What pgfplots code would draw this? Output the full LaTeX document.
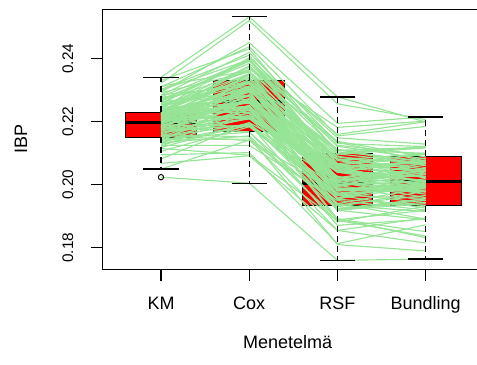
\documentclass[border=0pt]{standalone}
\usepackage{fontspec}
\setmainfont{Liberation Sans}
\usepackage{pgfplots}
\pgfplotsset{compat=1.18}
\usetikzlibrary{calc}
\definecolor{lg}{RGB}{150,228,150}
\definecolor{bxred}{RGB}{255,0,0}
\pgfplotsset{gl/.style={color=lg, line width=0.85pt, mark=none, line join=round}}
\begin{document}
\begin{tikzpicture}
\begin{axis}[
  scale only axis,
  width=283pt, height=195pt,
  xmin=0.339, xmax=4.616,
  ymin=0.17314, ymax=0.25568,
  xtick={1,2,3,4}, xticklabels={KM,Cox,RSF,Bundling},
  ytick={0.18,0.20,0.22,0.24},
  /pgf/number format/assume math mode=true,
  yticklabel style={xshift=-9.5pt, rotate=90, anchor=south,
    /pgf/number format/fixed, /pgf/number format/precision=2,
    /pgf/number format/fixed zerofill, font=\fontsize{11.5}{12}\selectfont},
  xticklabel style={font=\fontsize{13.5}{15}\selectfont, yshift=-8pt},
  tick align=outside,
  major tick length=9pt,
  xtick pos=bottom, ytick pos=left,
  tick style={black, line width=0.8pt},
  axis line style={line width=1pt},
  xlabel={Menetelmä}, ylabel={IBP},
  xlabel style={at={(axis description cs:0.49,0)}, anchor=north, yshift=-46.3pt, font=\fontsize{13.5}{15}\selectfont},
  ylabel style={at={(axis description cs:-0.2165,0.5)}, anchor=center, font=\fontsize{13.5}{15}\selectfont},
]
\coordinate (LL) at (rel axis cs:0,0);
% boxes
\addplot[fill=bxred, draw=black, line width=0.7pt] coordinates {(0.6,0.2151) (1.4,0.2151) (1.4,0.2231) (0.6,0.2231)} -- cycle;
\addplot[fill=bxred, draw=black, line width=0.7pt] coordinates {(1.6,0.2170) (2.4,0.2170) (2.4,0.2331) (1.6,0.2331)} -- cycle;
\addplot[fill=bxred, draw=black, line width=0.7pt] coordinates {(2.6,0.1934) (3.4,0.1934) (3.4,0.2100) (2.6,0.2100)} -- cycle;
\addplot[fill=bxred, draw=black, line width=0.7pt] coordinates {(3.6,0.1934) (4.4,0.1934) (4.4,0.2090) (3.6,0.2090)} -- cycle;
% medians
\addplot[black, line width=2.2pt] coordinates {(0.6,0.2198) (1.4,0.2198)};
\addplot[black, line width=2.2pt] coordinates {(1.6,0.2265) (2.4,0.2265)};
\addplot[black, line width=2.2pt] coordinates {(2.6,0.2005) (3.4,0.2005)};
\addplot[black, line width=2.2pt] coordinates {(3.6,0.2010) (4.4,0.2010)};
% individual lines
\addplot[gl] coordinates {(1,0.2024) (2,0.2005) (3,0.1760) (4,0.1764)};
\addplot[gl] coordinates {(1,0.2050) (2,0.2142) (3,0.1973) (4,0.1943)};
\addplot[gl] coordinates {(1,0.2068) (2,0.2092) (3,0.1855) (4,0.1895)};
\addplot[gl] coordinates {(1,0.2082) (2,0.2197) (3,0.2044) (4,0.2024)};
\addplot[gl] coordinates {(1,0.2095) (2,0.2102) (3,0.1813) (4,0.1873)};
\addplot[gl] coordinates {(1,0.2106) (2,0.2184) (3,0.1974) (4,0.1984)};
\addplot[gl] coordinates {(1,0.2115) (2,0.2094) (3,0.1887) (4,0.1837)};
\addplot[gl] coordinates {(1,0.2122) (2,0.2231) (3,0.1889) (4,0.1919)};
\addplot[gl] coordinates {(1,0.2128) (2,0.2188) (3,0.1987) (4,0.1977)};
\addplot[gl] coordinates {(1,0.2134) (2,0.2155) (3,0.1892) (4,0.1832)};
\addplot[gl] coordinates {(1,0.2139) (2,0.2270) (3,0.2079) (4,0.2099)};
\addplot[gl] coordinates {(1,0.2143) (2,0.2145) (3,0.1855) (4,0.1815)};
\addplot[gl] coordinates {(1,0.2147) (2,0.2239) (3,0.2005) (4,0.2055)};
\addplot[gl] coordinates {(1,0.2151) (2,0.2193) (3,0.1871) (4,0.1891)};
\addplot[gl] coordinates {(1,0.2155) (2,0.2298) (3,0.2080) (4,0.2050)};
\addplot[gl] coordinates {(1,0.2159) (2,0.2152) (3,0.1810) (4,0.1790)};
\addplot[gl] coordinates {(1,0.2163) (2,0.2237) (3,0.1994) (4,0.2034)};
\addplot[gl] coordinates {(1,0.2167) (2,0.2191) (3,0.2009) (4,0.1959)};
\addplot[gl] coordinates {(1,0.2171) (2,0.2285) (3,0.1980) (4,0.1990)};
\addplot[gl] coordinates {(1,0.2175) (2,0.2210) (3,0.2064) (4,0.2044)};
\addplot[gl] coordinates {(1,0.2179) (2,0.2304) (3,0.2014) (4,0.2044)};
\addplot[gl] coordinates {(1,0.2183) (2,0.2168) (3,0.1882) (4,0.1932)};
\addplot[gl] coordinates {(1,0.2186) (2,0.2272) (3,0.2040) (4,0.2000)};
\addplot[gl] coordinates {(1,0.2189) (2,0.2245) (3,0.1920) (4,0.1940)};
\addplot[gl] coordinates {(1,0.2192) (2,0.2298) (3,0.2110) (4,0.2100)};
\addplot[gl] coordinates {(1,0.2195) (2,0.2212) (3,0.1955) (4,0.2015)};
\addplot[gl] coordinates {(1,0.2198) (2,0.2335) (3,0.2098) (4,0.2068)};
\addplot[gl] coordinates {(1,0.2200) (2,0.2247) (3,0.1891) (4,0.1851)};
\addplot[gl] coordinates {(1,0.2203) (2,0.2301) (3,0.2052) (4,0.2072)};
\addplot[gl] coordinates {(1,0.2206) (2,0.2214) (3,0.2027) (4,0.1977)};
\addplot[gl] coordinates {(1,0.2209) (2,0.2327) (3,0.2022) (4,0.2062)};
\addplot[gl] coordinates {(1,0.2211) (2,0.2249) (3,0.2003) (4,0.1993)};
\addplot[gl] coordinates {(1,0.2214) (2,0.2293) (3,0.1966) (4,0.1996)};
\addplot[gl] coordinates {(1,0.2216) (2,0.2215) (3,0.2057) (4,0.1997)};
\addplot[gl] coordinates {(1,0.2218) (2,0.2347) (3,0.2097) (4,0.2117)};
\addplot[gl] coordinates {(1,0.2221) (2,0.2250) (3,0.1954) (4,0.1934)};
\addplot[gl] coordinates {(1,0.2223) (2,0.2313) (3,0.2111) (4,0.2071)};
\addplot[gl] coordinates {(1,0.2225) (2,0.2285) (3,0.1930) (4,0.1980)};
\addplot[gl] coordinates {(1,0.2227) (2,0.2377) (3,0.2109) (4,0.2119)};
\addplot[gl] coordinates {(1,0.2229) (2,0.2249) (3,0.2043) (4,0.2013)};
\addplot[gl] coordinates {(1,0.2231) (2,0.2341) (3,0.2012) (4,0.2032)};
\addplot[gl] coordinates {(1,0.2233) (2,0.2284) (3,0.1999) (4,0.1949)};
\addplot[gl] coordinates {(1,0.2236) (2,0.2367) (3,0.2182) (4,0.2202)};
\addplot[gl] coordinates {(1,0.2239) (2,0.2280) (3,0.1936) (4,0.1966)};
\addplot[gl] coordinates {(1,0.2242) (2,0.2403) (3,0.2149) (4,0.2129)};
\addplot[gl] coordinates {(1,0.2246) (2,0.2258) (3,0.2010) (4,0.1970)};
\addplot[gl] coordinates {(1,0.2250) (2,0.2352) (3,0.2010) (4,0.2070)};
\addplot[gl] coordinates {(1,0.2254) (2,0.2327) (3,0.2082) (4,0.2072)};
\addplot[gl] coordinates {(1,0.2258) (2,0.2401) (3,0.2067) (4,0.2097)};
\addplot[gl] coordinates {(1,0.2263) (2,0.2297) (3,0.1919) (4,0.1889)};
\addplot[gl] coordinates {(1,0.2268) (2,0.2392) (3,0.2160) (4,0.2200)};
\addplot[gl] coordinates {(1,0.2273) (2,0.2328) (3,0.2022) (4,0.2002)};
\addplot[gl] coordinates {(1,0.2279) (2,0.2394) (3,0.2122) (4,0.2082)};
\addplot[gl] coordinates {(1,0.2286) (2,0.2312) (3,0.1970) (4,0.2020)};
\addplot[gl] coordinates {(1,0.2294) (2,0.2451) (3,0.2195) (4,0.2215)};
\addplot[gl] coordinates {(1,0.2303) (2,0.2411) (3,0.2105) (4,0.2075)};
\addplot[gl] coordinates {(1,0.2313) (2,0.2362) (3,0.1988) (4,0.1998)};
\addplot[gl] coordinates {(1,0.2322) (2,0.2521) (3,0.2257) (4,0.2207)};
\addplot[gl] coordinates {(1,0.2331) (2,0.2431) (3,0.2100) (4,0.2120)};
\addplot[gl] coordinates {(1,0.2341) (2,0.2533) (3,0.2279) (4,0.2199)};
\addplot[gl] coordinates {(1,0.2118) (2,0.2197) (3,0.1924) (4,0.1944)};
\addplot[gl] coordinates {(1,0.2125) (2,0.2125) (3,0.1950) (4,0.1920)};
\addplot[gl] coordinates {(1,0.2131) (2,0.2241) (3,0.1917) (4,0.1957)};
\addplot[gl] coordinates {(1,0.2137) (2,0.2188) (3,0.1967) (4,0.1957)};
\addplot[gl] coordinates {(1,0.2141) (2,0.2272) (3,0.2050) (4,0.2010)};
\addplot[gl] coordinates {(1,0.2145) (2,0.2167) (3,0.1921) (4,0.1951)};
\addplot[gl] coordinates {(1,0.2149) (2,0.2211) (3,0.2024) (4,0.2004)};
\addplot[gl] coordinates {(1,0.2153) (2,0.2245) (3,0.1940) (4,0.1990)};
\addplot[gl] coordinates {(1,0.2157) (2,0.2140) (3,0.1941) (4,0.1891)};
\addplot[gl] coordinates {(1,0.2161) (2,0.2284) (3,0.1999) (4,0.2009)};
\addplot[gl] coordinates {(1,0.2165) (2,0.2209) (3,0.2043) (4,0.2013)};
\addplot[gl] coordinates {(1,0.2169) (2,0.2273) (3,0.1971) (4,0.1991)};
\addplot[gl] coordinates {(1,0.2173) (2,0.2187) (3,0.1956) (4,0.1996)};
\addplot[gl] coordinates {(1,0.2177) (2,0.2252) (3,0.1935) (4,0.1915)};
\addplot[gl] coordinates {(1,0.2181) (2,0.2326) (3,0.2081) (4,0.2021)};
\addplot[gl] coordinates {(1,0.2184) (2,0.2220) (3,0.2021) (4,0.2051)};
\addplot[gl] coordinates {(1,0.2187) (2,0.2273) (3,0.1981) (4,0.1991)};
\addplot[gl] coordinates {(1,0.2190) (2,0.2186) (3,0.1966) (4,0.1926)};
\addplot[gl] coordinates {(1,0.2193) (2,0.2309) (3,0.1958) (4,0.2008)};
\addplot[gl] coordinates {(1,0.2196) (2,0.2263) (3,0.2045) (4,0.2025)};
\addplot[gl] coordinates {(1,0.2199) (2,0.2226) (3,0.1966) (4,0.1996)};
\addplot[gl] coordinates {(1,0.2201) (2,0.2328) (3,0.2112) (4,0.2062)};
\addplot[gl] coordinates {(1,0.2204) (2,0.2262) (3,0.1983) (4,0.2003)};
\addplot[gl] coordinates {(1,0.2207) (2,0.2305) (3,0.1985) (4,0.1995)};
\addplot[gl] coordinates {(1,0.2210) (2,0.2218) (3,0.2040) (4,0.2010)};
\addplot[gl] coordinates {(1,0.2212) (2,0.2350) (3,0.2039) (4,0.2079)};
\addplot[gl] coordinates {(1,0.2215) (2,0.2264) (3,0.2015) (4,0.1995)};
\addplot[gl] coordinates {(1,0.2217) (2,0.2326) (3,0.2091) (4,0.2041)};
\addplot[gl] coordinates {(1,0.2219) (2,0.2238) (3,0.1925) (4,0.1955)};
\addplot[gl] coordinates {(1,0.2222) (2,0.2311) (3,0.2060) (4,0.2070)};
\addplot[gl] coordinates {(1,0.2224) (2,0.2374) (3,0.2077) (4,0.2037)};
\addplot[gl] coordinates {(1,0.2226) (2,0.2266) (3,0.2056) (4,0.2076)};
\addplot[gl] coordinates {(1,0.2228) (2,0.2308) (3,0.1997) (4,0.2047)};
\addplot[gl] coordinates {(1,0.2230) (2,0.2230) (3,0.2009) (4,0.1979)};
\addplot[gl] coordinates {(1,0.2232) (2,0.2352) (3,0.2000) (4,0.2010)};
\addplot[gl] coordinates {(1,0.2235) (2,0.2296) (3,0.2088) (4,0.2068)};
\addplot[gl] coordinates {(1,0.2238) (2,0.2339) (3,0.2061) (4,0.2101)};
\addplot[gl] coordinates {(1,0.2241) (2,0.2272) (3,0.1990) (4,0.1980)};
\addplot[gl] coordinates {(1,0.2244) (2,0.2376) (3,0.2138) (4,0.2088)};
\addplot[gl] coordinates {(1,0.2248) (2,0.2320) (3,0.2016) (4,0.2046)};
\addplot[gl] coordinates {(1,0.2252) (2,0.2304) (3,0.2054) (4,0.2034)};
\addplot[gl] coordinates {(1,0.2256) (2,0.2399) (3,0.2046) (4,0.2066)};
\addplot[gl] coordinates {(1,0.2261) (2,0.2284) (3,0.2059) (4,0.2069)};
\addplot[gl] coordinates {(1,0.2266) (2,0.2360) (3,0.2066) (4,0.2026)};
\addplot[gl] coordinates {(1,0.2271) (2,0.2385) (3,0.2125) (4,0.2095)};
\addplot[gl] coordinates {(1,0.2277) (2,0.2322) (3,0.1998) (4,0.2048)};
\addplot[gl] coordinates {(1,0.2284) (2,0.2420) (3,0.2131) (4,0.2121)};
\addplot[gl] coordinates {(1,0.2292) (2,0.2358) (3,0.2135) (4,0.2075)};
\addplot[gl] coordinates {(1,0.2300) (2,0.2397) (3,0.2064) (4,0.2084)};
\addplot[gl] coordinates {(1,0.2310) (2,0.2438) (3,0.2155) (4,0.2185)};
% whiskers
\pgfplotsset{wh/.style={black, line width=0.8pt, dash pattern=on 4.5pt off 3pt}}
\pgfplotsset{cap/.style={black, line width=1pt}}
\addplot[wh] coordinates {(1,0.2231) (1,0.2341)};
\addplot[wh] coordinates {(1,0.2151) (1,0.2050)};
\addplot[cap] coordinates {(0.8,0.2341) (1.2,0.2341)};
\addplot[cap] coordinates {(0.8,0.2050) (1.2,0.2050)};
\addplot[wh] coordinates {(2,0.2331) (2,0.2533)};
\addplot[wh] coordinates {(2,0.2170) (2,0.2005)};
\addplot[cap] coordinates {(1.8,0.2533) (2.2,0.2533)};
\addplot[cap] coordinates {(1.8,0.2005) (2.2,0.2005)};
\addplot[wh] coordinates {(3,0.2100) (3,0.2279)};
\addplot[wh] coordinates {(3,0.1934) (3,0.1759)};
\addplot[cap] coordinates {(2.8,0.2279) (3.2,0.2279)};
\addplot[cap] coordinates {(2.8,0.1759) (3.2,0.1759)};
\addplot[wh] coordinates {(4,0.2090) (4,0.2215)};
\addplot[wh] coordinates {(4,0.1934) (4,0.1764)};
\addplot[cap] coordinates {(3.8,0.2215) (4.2,0.2215)};
\addplot[cap] coordinates {(3.8,0.1764) (4.2,0.1764)};
\addplot[only marks, mark=o, mark size=2pt, black, mark options={line width=0.7pt}] coordinates {(1,0.2024)};
\end{axis}
\pgfresetboundingbox
\path ($(LL)+(-77pt,-71pt)$) rectangle ($(LL)+(280.7pt,202pt)$);
\end{tikzpicture}
\end{document}
